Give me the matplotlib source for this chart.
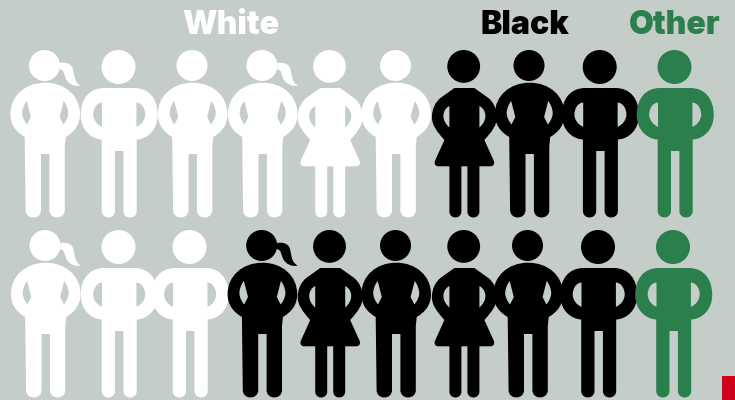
import matplotlib
matplotlib.use('Agg')
import matplotlib.pyplot as plt
from matplotlib.path import Path
from matplotlib.patches import PathPatch, Circle, Rectangle

# who stands where, one list per row
row1_groups = ["White", "White", "White", "White", "White", "White", "Black", "Black", "Black", "Other"]
row2_groups = ["White", "White", "White", "Black", "Black", "Black", "Black", "Black", "Black", "Other"]
row1_icons = ["pony", "man", "plain", "pony", "dress", "plain", "dress", "plain", "man", "man"]
row2_icons = ["pony", "man", "man", "pony", "dress", "plain", "dress", "plain", "man", "man"]
labels = ["White", "Black", "Other"]

row1_x = [44.5, 118.5, 192, 262, 329.5, 395.5, 463.7, 529, 599.7, 674.5]
row2_x = [45, 118.5, 189.5, 261.7, 329.5, 395.5, 463.7, 527.5, 598, 673]
row_dy = [0, 180]
label_x = [231, 525, 675]
colors = {"White": "#ffffff", "Black": "#000000", "Other": "#2a7f4c"}
bg = "#c5cdc9"

M, L, C, Z = Path.MOVETO, Path.LINETO, Path.CURVE4, Path.CLOSEPOLY


class P:
    # small helper so the shapes read like svg paths
    def __init__(self):
        self.v = []
        self.c = []
    def m(self, x, y):
        self.v.append((x, y)); self.c.append(M); return self
    def l(self, x, y):
        self.v.append((x, y)); self.c.append(L); return self
    def b(self, x1, y1, x2, y2, x, y):
        self.v += [(x1, y1), (x2, y2), (x, y)]; self.c += [C, C, C]; return self
    def z(self):
        self.v.append(self.v[-1]); self.c.append(Z); return self
    def add_holes(self, h):
        # h is the left hole, open path. left one goes in as is,
        # right one mirrored and reversed so both wind against the outline
        self.v += h.v + [h.v[-1]]
        self.c += h.c + [Z]
        mv = [(-a, b) for a, b in h.v][::-1]
        self.v += mv + [mv[-1]]
        self.c += [M] + h.c[1:][::-1] + [Z]
        return self


def leg_pair(p, outer, inner, crotch, r, bottom=217.5):
    # right side going down, finishes at the left outer edge
    p.l(outer, bottom - r)
    p.b(outer, bottom + r * 0.33, inner, bottom + r * 0.33, inner, bottom - r)
    p.l(inner, crotch).l(-inner, crotch).l(-inner, bottom - r)
    p.b(-inner, bottom + r * 0.33, -outer, bottom + r * 0.33, -outer, bottom - r)


def man_shape():
    p = P()
    p.m(-15, 88).l(15, 88)
    p.b(30, 88, 38.5, 99, 38.5, 115)
    p.b(38.5, 130, 28, 139, 17.5, 139.5)
    leg_pair(p, 17.5, 4.2, 151, 6.6)
    p.l(-17.5, 139.5)
    p.b(-28, 139, -38.5, 130, -38.5, 115)
    p.b(-38.5, 99, -30, 88, -15, 88).z()
    h = P().m(-17.2, 102.5)
    h.b(-23, 103, -26, 109, -26, 114.5)
    h.b(-26, 120, -22, 125, -17.2, 126.8)
    return p.add_holes(h)


def plain_shape():
    p = P()
    p.m(0, 82.7)
    p.b(20, 82.7, 34.8, 96, 34.8, 114)
    p.b(34.8, 125, 29, 132, 20.5, 137)
    p.l(19.6, 146)
    leg_pair(p, 19.6, 4.2, 154, 7.4)
    p.l(-20.5, 137)
    p.b(-29, 132, -34.8, 125, -34.8, 114)
    p.b(-34.8, 96, -20, 82.7, 0, 82.7).z()
    h = P().m(-18.5, 101)
    h.b(-21, 104, -23, 109, -23, 113)
    h.b(-23, 117, -21, 121, -18.2, 124.5)
    h.l(-14.4, 117)
    return p.add_holes(h)


def dress_shape():
    p = P()
    p.m(-10, 88).l(10, 88)
    p.l(24, 98)
    p.b(29, 102, 32.5, 109, 32.5, 117)
    p.b(32.5, 125, 28, 131, 20, 140)
    p.l(29.5, 161)
    p.b(30.5, 164, 29, 166.3, 26, 166.3)
    p.l(15, 166.3)
    leg_pair(p, 15, 3, 166.3, 6)
    p.l(-15, 166.3).l(-26, 166.3)
    p.b(-29, 166.3, -30.5, 164, -29.5, 161)
    p.l(-20, 140)
    p.b(-28, 131, -32.5, 125, -32.5, 117)
    p.b(-32.5, 109, -29, 102, -24, 98).z()
    h = P().m(-15, 106)
    h.b(-19, 108, -21, 112, -21, 116)
    h.b(-21, 120, -19, 124, -15, 127.5)
    return p.add_holes(h)


def tail_shape():
    p = P()
    p.m(15.5, 63)
    p.b(20, 62, 26, 63, 28, 68)
    p.b(30, 74, 29, 82, 36, 85.5)
    p.b(30, 87, 24, 84, 21.5, 79)
    p.b(19, 74, 20, 70, 15, 69).z()
    return p


shapes = {"man": man_shape(), "plain": plain_shape(), "pony": plain_shape(), "dress": dress_shape()}
head_r = {"man": 17, "plain": 15.5, "pony": 15.5, "dress": 16.4}
tail = tail_shape()
body_shift = 0.7  # the bodies sit a bit right of the heads


def draw_person(ax, x, dy, kind, col):
    r = head_r[kind]
    ax.add_patch(Circle((x, 50 + r + dy), r, fc=col, ec='none'))
    s = shapes[kind]
    v = [(x + body_shift + a, b + dy) for a, b in s.v]
    ax.add_patch(PathPatch(Path(v, s.c), fc=col, ec='none'))
    if kind == "pony":
        v = [(x + a, b + dy) for a, b in tail.v]
        ax.add_patch(PathPatch(Path(v, tail.c), fc=col, ec='none'))


fig = plt.figure(figsize=(7.35, 4), dpi=100, facecolor=bg)
ax = fig.add_axes([0, 0, 1, 1])
ax.set_xlim(0, 735)
ax.set_ylim(400, 0)
ax.axis('off')

rows = [(row1_groups, row1_icons, row1_x), (row2_groups, row2_icons, row2_x)]
for (groups, icons, xs), dy in zip(rows, row_dy):
    for g, k, x in zip(groups, icons, xs):
        draw_person(ax, x, dy, k, colors[g])

for lab, x in zip(labels, label_x):
    ax.text(x, 34, lab, color=colors[lab], ha='center', va='baseline',
            fontsize=23, family='Inter', weight='black')

# red corner block
ax.add_patch(Rectangle((722, 376), 13, 24, fc="#d0021b", ec='none'))

fig.savefig('out.png', dpi=100, facecolor=bg)
